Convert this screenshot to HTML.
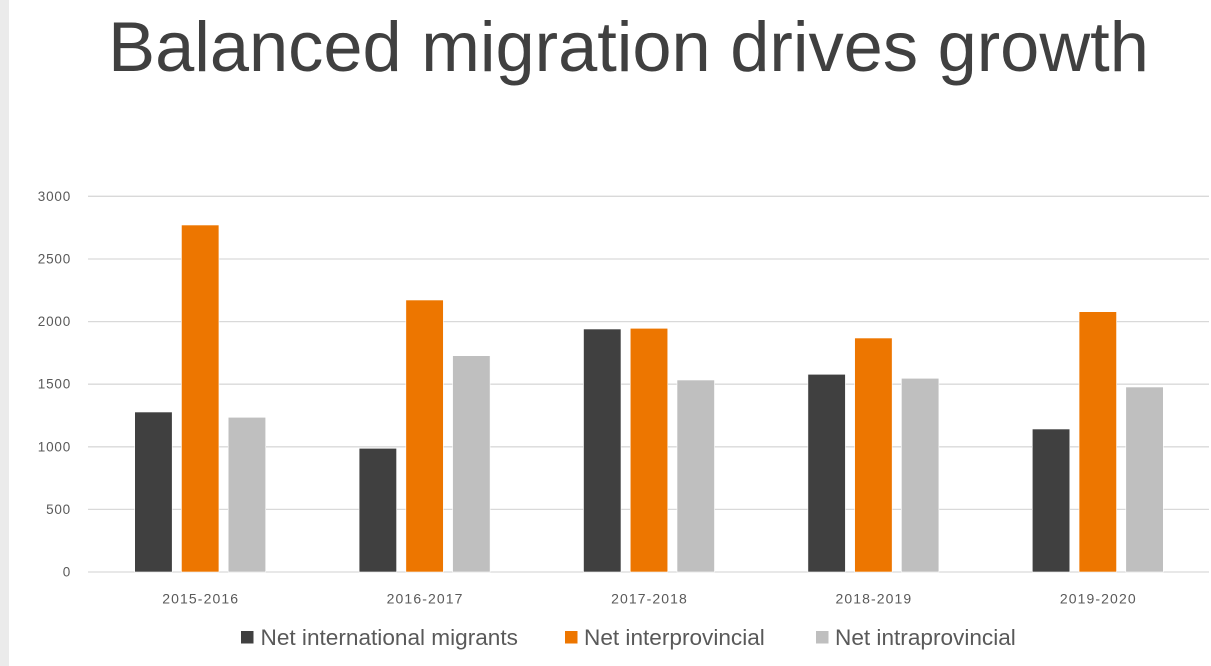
<!DOCTYPE html>
<html>
<head>
<meta charset="utf-8">
<style>
  html,body{margin:0;padding:0;background:#fff;}
  body{width:1211px;height:666px;overflow:hidden;}
  svg{display:block;}
</style>
</head>
<body>
<svg width="1211" height="666" viewBox="0 0 1211 666" xmlns="http://www.w3.org/2000/svg" font-family="Liberation Sans, sans-serif">
  <rect x="0" y="0" width="1211" height="666" fill="#ffffff"/>
  <rect x="0" y="0" width="9" height="666" fill="#ebebeb"/>

  <!-- Title -->
  <text x="628.5" y="71" font-size="70.4" fill="#404040" text-anchor="middle">Balanced migration drives growth</text>

  <!-- Gridlines -->
  <g stroke="#d9d9d9" stroke-width="1.3">
    <line x1="88" x2="1209" y1="196.3" y2="196.3"/>
    <line x1="88" x2="1209" y1="259" y2="259"/>
    <line x1="88" x2="1209" y1="321.6" y2="321.6"/>
    <line x1="88" x2="1209" y1="384.2" y2="384.2"/>
    <line x1="88" x2="1209" y1="446.8" y2="446.8"/>
    <line x1="88" x2="1209" y1="509.4" y2="509.4"/>
    <line x1="88" x2="1209" y1="572" y2="572"/>
  </g>

  <!-- Y tick labels -->
  <g font-size="13.5" fill="#595959" text-anchor="end" letter-spacing="0.8">
    <text x="71" y="201">3000</text>
    <text x="71" y="263.5">2500</text>
    <text x="71" y="326">2000</text>
    <text x="71" y="388.7">1500</text>
    <text x="71" y="451.3">1000</text>
    <text x="71" y="514">500</text>
    <text x="71" y="576.5">0</text>
  </g>

  <!-- Bars -->
  <g stroke="#ffffff" stroke-width="0.6">
    <!-- Group 1 center 200.2 -->
    <rect x="134.7" y="412" width="37.5" height="160" fill="#404040"/>
    <rect x="181.45" y="225" width="37.5" height="347" fill="#ed7600"/>
    <rect x="228.2" y="417.3" width="37.5" height="154.7" fill="#bfbfbf"/>
    <!-- Group 2 center 424.6 -->
    <rect x="359.1" y="448.3" width="37.5" height="123.7" fill="#404040"/>
    <rect x="405.85" y="300" width="37.5" height="272" fill="#ed7600"/>
    <rect x="452.6" y="355.7" width="37.5" height="216.3" fill="#bfbfbf"/>
    <!-- Group 3 center 649 -->
    <rect x="583.5" y="329" width="37.5" height="243" fill="#404040"/>
    <rect x="630.25" y="328.3" width="37.5" height="243.7" fill="#ed7600"/>
    <rect x="677" y="380" width="37.5" height="192" fill="#bfbfbf"/>
    <!-- Group 4 center 873.4 -->
    <rect x="807.9" y="374.3" width="37.5" height="197.7" fill="#404040"/>
    <rect x="854.65" y="338" width="37.5" height="234" fill="#ed7600"/>
    <rect x="901.4" y="378.3" width="37.5" height="193.7" fill="#bfbfbf"/>
    <!-- Group 5 center 1097.8 -->
    <rect x="1032.3" y="429" width="37.5" height="143" fill="#404040"/>
    <rect x="1079.05" y="311.7" width="37.5" height="260.3" fill="#ed7600"/>
    <rect x="1125.8" y="387" width="37.5" height="185" fill="#bfbfbf"/>
  </g>

  <!-- X labels -->
  <g font-size="14" fill="#595959" text-anchor="middle" letter-spacing="1.1">
    <text x="200.7" y="603.5">2015-2016</text>
    <text x="425.1" y="603.5">2016-2017</text>
    <text x="649.5" y="603.5">2017-2018</text>
    <text x="873.9" y="603.5">2018-2019</text>
    <text x="1098.3" y="603.5">2019-2020</text>
  </g>

  <!-- Legend -->
  <rect x="241" y="631" width="12.5" height="12.5" fill="#404040"/>
  <text x="260.5" y="645" font-size="22.6" fill="#595959">Net international migrants</text>
  <rect x="565" y="631" width="12.5" height="12.5" fill="#ed7600"/>
  <text x="584" y="645" font-size="22.6" fill="#595959">Net interprovincial</text>
  <rect x="816" y="631" width="12.5" height="12.5" fill="#bfbfbf"/>
  <text x="835" y="645" font-size="22.6" fill="#595959">Net intraprovincial</text>
</svg>
</body>
</html>
